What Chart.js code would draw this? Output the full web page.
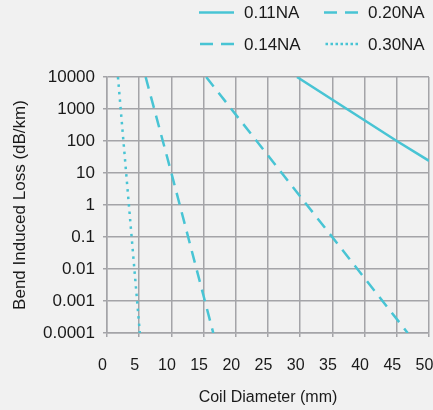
<!DOCTYPE html>
<html>
<head>
<meta charset="utf-8">
<script src="https://cdn.jsdelivr.net/npm/chart.js@4/dist/chart.umd.min.js"></script>
<style>
  html, body { margin: 0; padding: 0; background: #f1f1f1; }
  #wrap { width: 433px; height: 410px; }
</style>
</head>
<body>
<div id="wrap"><canvas id="c" width="433" height="410"></canvas></div>
<script>
// ---- data ----
const seriesNames = ['0.11NA', '0.20NA', '0.14NA', '0.30NA'];
const na011 = [{x: 29.5, y: 10000}, {x: 45, y: 100}, {x: 50, y: 24}];
const na020 = [{x: 6.0, y: 10000}, {x: 10.0, y: 10}, {x: 16.5, y: 0.0001}];
const na014 = [{x: 15.4, y: 10000}, {x: 40.2, y: 0.0046}, {x: 46.7, y: 0.0001}];
const na030 = [{x: 1.7, y: 10000}, {x: 5.1, y: 0.0001}];
const xTicks = [0, 5, 10, 15, 20, 25, 30, 35, 40, 45, 50];
const yTicks = [0.0001, 0.001, 0.01, 0.1, 1, 10, 100, 1000, 10000];
const yTickLabels = ['0.0001', '0.001', '0.01', '0.1', '1', '10', '100', '1000', '10000'];

const teal = '#48c4d4';
const gridCol = '#a4a4a8';
const textCol = '#1a1a1a';
const FONT = "'Liberation Sans', Arial, Helvetica, sans-serif";

const legendPlugin = {
  id: 'customLegend',
  afterDraw(chart) {
    const ctx = chart.ctx;
    const pos = [
      {lx: 199, y: 12.5},   // 0.11NA
      {lx: 323, y: 12.5},   // 0.20NA
      {lx: 199, y: 44},     // 0.14NA
      {lx: 323, y: 44}      // 0.30NA
    ];
    chart.data.datasets.forEach((ds, i) => {
      const p = pos[i];
      ctx.save();
      ctx.strokeStyle = ds.borderColor;
      ctx.lineWidth = ds.borderWidth;
      ctx.setLineDash(ds.legendDash || []);
      ctx.beginPath();
      ctx.moveTo(p.lx + 35, p.y);
      ctx.lineTo(p.lx, p.y);
      ctx.stroke();
      ctx.setLineDash([]);
      ctx.fillStyle = textCol;
      ctx.font = '17px ' + FONT;
      ctx.textBaseline = 'middle';
      ctx.textAlign = 'left';
      ctx.fillText(ds.label, p.lx + 45, p.y + 1);
      ctx.restore();
    });
  }
};

new Chart(document.getElementById('c'), {
  type: 'line',
  data: {
    datasets: [
      {label: seriesNames[0], data: na011, borderColor: teal, borderWidth: 2.5, borderDash: [], legendDash: []},
      {label: seriesNames[1], data: na020, borderColor: teal, borderWidth: 2.5, borderDash: [12, 8], legendDash: [13, 8]},
      {label: seriesNames[2], data: na014, borderColor: teal, borderWidth: 2.5, borderDash: [12, 8], legendDash: [13, 8]},
      {label: seriesNames[3], data: na030, borderColor: teal, borderWidth: 2.5, borderDash: [2.5, 5], legendDash: [2.5, 2.5]}
    ]
  },
  options: {
    responsive: false,
    animation: false,
    devicePixelRatio: 1,
    elements: { point: { radius: 0 }, line: { tension: 0 } },
    layout: { padding: { top: 77, right: 4, left: 0, bottom: 0 } },
    plugins: {
      legend: { display: false },
      tooltip: { enabled: false }
    },
    scales: {
      x: {
        type: 'linear',
        min: 0, max: 50,
        afterBuildTicks: (s) => { s.ticks = xTicks.map(v => ({value: v})); },
        afterFit: (s) => { s.height = 77; s.paddingLeft = 0; s.paddingRight = 0; },
        ticks: { color: textCol, font: { family: FONT, size: 16 }, padding: 19, maxRotation: 0,
                 labelOffset: -4.5, callback: (v) => String(v) },
        grid: { color: gridCol, lineWidth: 1.5, tickLength: 4, drawTicks: true },
        border: { color: gridCol, width: 1.5 },
        title: { display: true, text: 'Coil Diameter (mm)', color: textCol,
                 font: { family: FONT, size: 16 }, padding: { top: 0, bottom: 2.5 } }
      },
      y: {
        type: 'logarithmic',
        min: 0.0001, max: 10000,
        afterBuildTicks: (s) => { s.ticks = yTicks.map(v => ({value: v})); },
        afterFit: (s) => { s.width = 107; s.paddingTop = 0; s.paddingBottom = 0; },
        ticks: { color: textCol, font: { family: FONT, size: 17 }, padding: 8,
                 callback: (v, i) => yTickLabels[i] },
        grid: { color: gridCol, lineWidth: 1.5, tickLength: 4, drawTicks: true },
        border: { color: gridCol, width: 1.5 },
        title: { display: true, text: 'Bend Induced Loss (dB/km)', color: textCol,
                 font: { family: FONT, size: 17 }, padding: { top: 10, bottom: 0 } }
      }
    }
  },
  plugins: [legendPlugin]
});
</script>
</body>
</html>
